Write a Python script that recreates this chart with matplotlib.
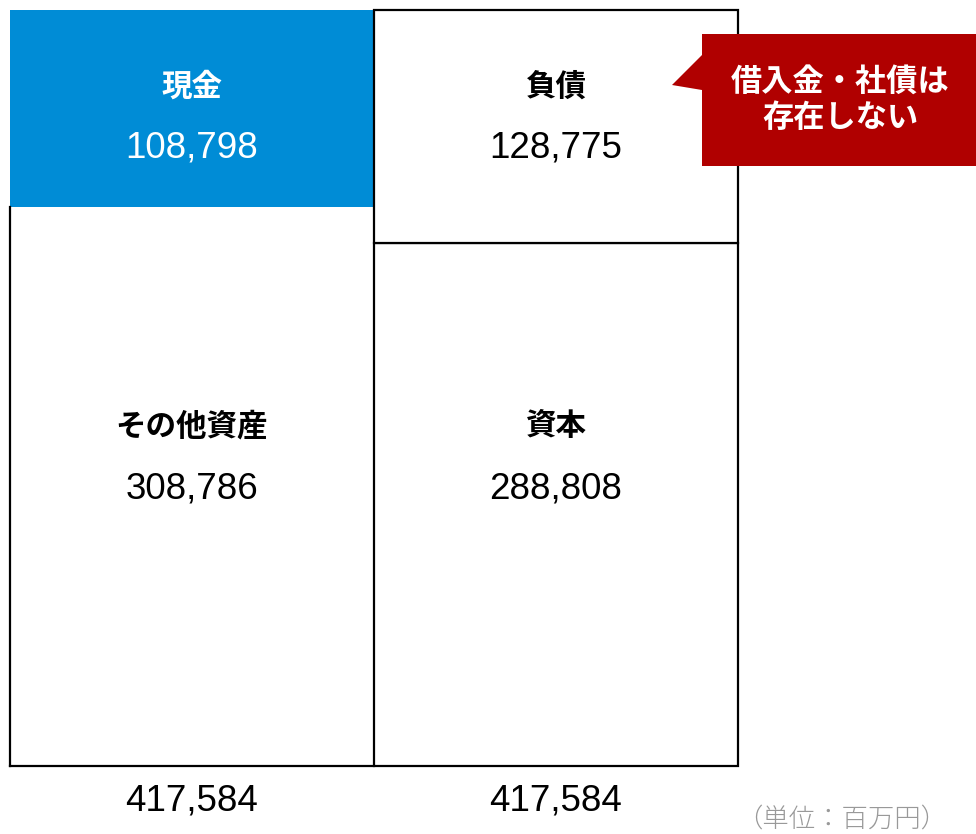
import matplotlib
matplotlib.use('Agg')
import matplotlib.pyplot as plt
from matplotlib.patches import Polygon

# 貸借対照表のデータ（単位：百万円）
asset_names = ['その他資産', '現金']
asset_values = [308786, 108798]
liab_names = ['資本', '負債']
liab_values = [288808, 128775]
total_label = '417,584'
callout_text = '借入金・社債は\n存在しない'
unit_text = '（単位：百万円）'

plt.rcParams['font.family'] = ['Liberation Sans', 'Noto Sans CJK JP']
W, H = 976, 834
fig = plt.figure(figsize=(W / 100, H / 100), dpi=100)

# 軸: 左端10px〜右端738px、上10px〜下766px
ax = fig.add_axes([10 / W, (H - 766) / H, 728 / W, 756 / H])
total = sum(asset_values)
ax.set_xlim(0, 2)
ax.set_ylim(0, total)
ax.axis('off')

blue = '#008CD6'
red = '#B00000'
lw = 1.6


def py2v(py):
    # 画像のピクセルy座標をデータ値に変換
    return (766 - py) / 756 * total


# 左列（資産）
ax.bar(0.5, asset_values[0], width=1, color='white', edgecolor='none')
ax.bar(0.5, asset_values[1], bottom=asset_values[0], width=1, color=blue, edgecolor='none')
ax.plot([0, 0], [0, asset_values[0]], color='black', lw=lw, clip_on=False, solid_capstyle='projecting')
ax.plot([0, 1], [0, 0], color='black', lw=lw, clip_on=False, solid_capstyle='projecting')

# 右列（負債・資本）
ax.bar(1.5, liab_values[0], width=1, color='white', edgecolor='black', lw=lw, clip_on=False)
ax.bar(1.5, liab_values[1], bottom=liab_values[0], width=1, color='white', edgecolor='black', lw=lw, clip_on=False)

# ラベル
lab_kw = dict(ha='center', va='center', fontsize=22, fontweight='bold')
num_kw = dict(ha='center', va='center', fontsize=26.5)
ax.text(0.5, py2v(88), asset_names[1], color='white', **lab_kw)
ax.text(0.5, py2v(148), f'{asset_values[1]:,}', color='white', **num_kw)
ax.text(0.5, py2v(427), asset_names[0], color='black', **lab_kw)
ax.text(0.5, py2v(489), f'{asset_values[0]:,}', color='black', **num_kw)
ax.text(1.5, py2v(88), liab_names[1], color='black', **lab_kw)
ax.text(1.5, py2v(148), f'{liab_values[1]:,}', color='black', **num_kw)
ax.text(1.5, py2v(427), liab_names[0], color='black', **lab_kw)
ax.text(1.5, py2v(489), f'{liab_values[0]:,}', color='black', **num_kw)

# 合計
ax.text(0.5, py2v(801), total_label, clip_on=False, **num_kw)
ax.text(1.5, py2v(801), total_label, clip_on=False, **num_kw)

# 吹き出し
def fp(x, y):
    return (x / W, 1 - y / H)

pts = [fp(702, 34), fp(976, 34), fp(976, 166), fp(702, 166),
       fp(702, 90), fp(672, 85), fp(702, 55)]
fig.patches.append(Polygon(pts, closed=True, transform=fig.transFigure,
                           facecolor=red, edgecolor='none'))
fig.text(840 / W, 1 - 101 / H, callout_text, ha='center', va='center',
         color='white', fontsize=22.5, fontweight='bold', linespacing=1.25)

# 単位
fig.text(842 / W, 1 - 819 / H, unit_text, ha='center', va='center',
         color='#999999', fontsize=19, fontweight='light')

fig.savefig('out.png', dpi=100)
